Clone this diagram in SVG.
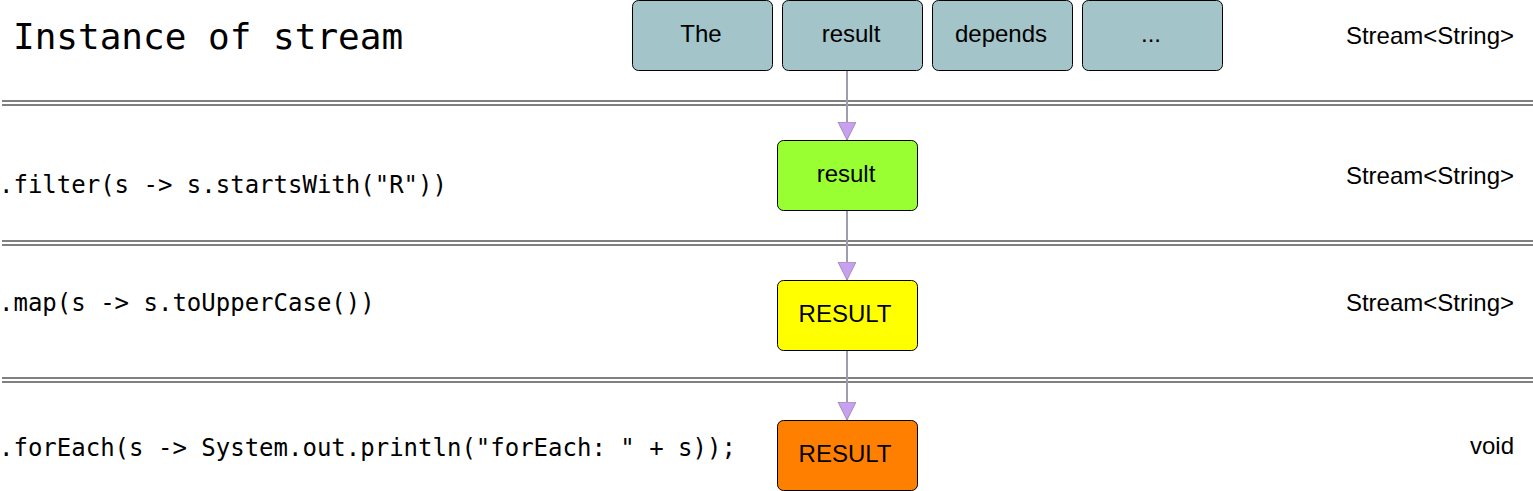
<svg xmlns="http://www.w3.org/2000/svg" width="1533" height="491" viewBox="0 0 1533 491">
<style>
.box{stroke:#000;stroke-width:1}
.lbl{font-family:"Liberation Sans",Arial,sans-serif;font-size:24px;fill:#000;text-anchor:middle}
.rlbl{font-family:"Liberation Sans",Arial,sans-serif;font-size:24px;fill:#000;text-anchor:end}
.code{font-family:"DejaVu Sans Mono",monospace;font-size:24px;fill:#000}
.sep{stroke:#808080;stroke-width:2}
.conn{stroke:#a09cb0;stroke-width:2;fill:none}
</style>
<defs>
<marker id="arr" markerWidth="20" markerHeight="20" refX="18" refY="9" orient="auto" markerUnits="userSpaceOnUse">
<path d="M0,0 L18,9 L0,18 Z" fill="#c8a0f0" stroke="#a08cb8" stroke-width="1"/>
</marker>
</defs>
<rect width="1533" height="491" fill="#fff"/>
<g id="separators">
<line class="sep" x1="2" y1="101" x2="1533" y2="101"/>
<line class="sep" x1="2" y1="105" x2="1533" y2="105"/>
<line class="sep" x1="2" y1="241" x2="1533" y2="241"/>
<line class="sep" x1="2" y1="245" x2="1533" y2="245"/>
<line class="sep" x1="2" y1="378" x2="1533" y2="378"/>
<line class="sep" x1="2" y1="382" x2="1533" y2="382"/>
</g>
<g id="labels">
<text x="13" y="49" style="font-family:'DejaVu Sans Mono',monospace;font-size:36px">Instance of stream</text>
<text class="code" x="-1" y="193">.filter(s -&gt; s.startsWith("R"))</text>
<text class="code" x="-1" y="311">.map(s -&gt; s.toUpperCase())</text>
<text class="code" x="-1" y="456">.forEach(s -&gt; System.out.println("forEach: " + s));</text>
<text class="rlbl" x="1514" y="44">Stream&lt;String&gt;</text>
<text class="rlbl" x="1514" y="184">Stream&lt;String&gt;</text>
<text class="rlbl" x="1514" y="311">Stream&lt;String&gt;</text>
<text class="rlbl" x="1514" y="454">void</text>
</g>
<g id="connectors">
<line class="conn" x1="847" y1="70" x2="847" y2="140" marker-end="url(#arr)"/>
<line class="conn" x1="847" y1="210" x2="847" y2="280" marker-end="url(#arr)"/>
<line class="conn" x1="847" y1="350" x2="847" y2="420" marker-end="url(#arr)"/>
</g>
<g id="n-the"><rect class="box" x="632.5" y="0.5" width="140" height="70" rx="6" fill="#a3c4c9"/><text class="lbl" x="701" y="42">The</text></g>
<g id="n-result"><rect class="box" x="782.5" y="0.5" width="140" height="70" rx="6" fill="#a3c4c9"/><text class="lbl" x="851" y="42">result</text></g>
<g id="n-depends"><rect class="box" x="932.5" y="0.5" width="140" height="70" rx="6" fill="#a3c4c9"/><text class="lbl" x="1001" y="42">depends</text></g>
<g id="n-more"><rect class="box" x="1082.5" y="0.5" width="140" height="70" rx="6" fill="#a3c4c9"/><text class="lbl" x="1151" y="42">...</text></g>
<g id="n-filter"><rect class="box" x="777.5" y="140.5" width="140" height="70" rx="6" fill="#99ff33"/><text class="lbl" x="846" y="182">result</text></g>
<g id="n-map"><rect class="box" x="777.5" y="280.5" width="140" height="70" rx="6" fill="#ffff00"/><text class="lbl" x="845" y="322">RESULT</text></g>
<g id="n-foreach"><rect class="box" x="777.5" y="420.5" width="140" height="70" rx="6" fill="#ff8000"/><text class="lbl" x="845" y="462">RESULT</text></g>
</svg>
